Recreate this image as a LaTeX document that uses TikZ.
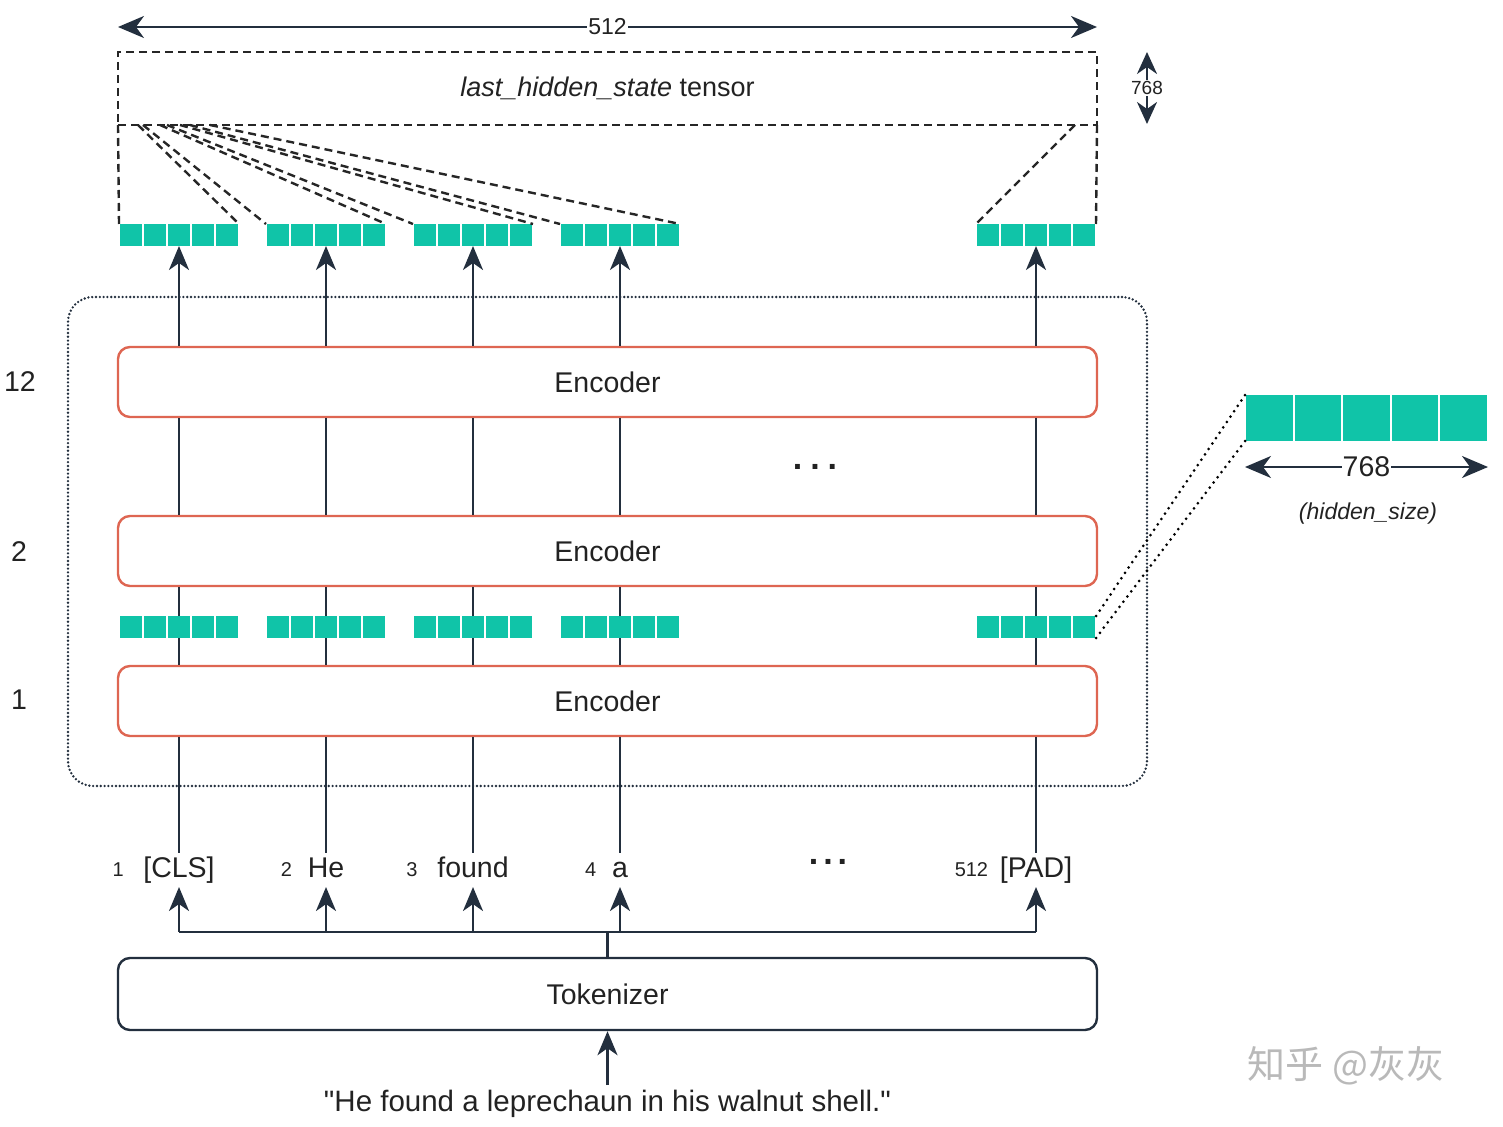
\documentclass[tikz,border=0pt]{standalone}
\usepackage{fontspec}
\setmainfont{Liberation Sans}
\newfontfamily\cjk{Noto Sans CJK SC}
\usepackage{tikz}
\usetikzlibrary{positioning,arrows.meta,calc}

\definecolor{ink}{RGB}{35,47,62}
\definecolor{encred}{RGB}{222,102,82}
\definecolor{cellteal}{RGB}{16,196,168}
\definecolor{txt}{RGB}{34,34,34}

\tikzset{
  lbl/.style={font=\fontsize{28.5}{32}\selectfont, text=txt},
  token/.style={lbl, text height=21pt, text depth=6pt},
  idx/.style={font=\fontsize{20}{24}\selectfont, text=txt, inner sep=2pt},
  encoder/.style={draw=encred, fill=white, line width=2.4pt, rounded corners=12pt, minimum width=979pt, minimum height=70pt, lbl},
  tokbox/.style={draw=ink, line width=2.4pt, rounded corners=12pt, minimum width=979pt, minimum height=72pt, lbl},
  vecbox/.style={inner sep=0pt, outer sep=0pt},
  link/.style={draw=ink, line width=2.4pt},
  arr/.style={link, -{Stealth[length=24pt,width=20pt,inset=7pt]}},
  dimarrow/.style={link, {Stealth[length=26pt,width=22pt,inset=8pt]}-{Stealth[length=26pt,width=22pt,inset=8pt]}},
  fan/.style={draw=black!85, line width=2.4pt, dash pattern=on 8pt off 5pt},
  zoomline/.style={draw=black, line width=3pt, line cap=round, dash pattern=on 0pt off 6.5pt},
  dotsym/.style={font=\fontsize{34}{34}\selectfont\bfseries, text=txt},
}

% row of five hidden-state cells: name, x, y, pitch, height
\newcommand{\vecrow}[5]{%
  \node[vecbox, minimum width=5*#4pt, minimum height=#5pt] (#1) at (#2,#3) {};
  \foreach \k in {0,...,4}
    \fill[cellteal] ([xshift=\k*#4pt+1pt]#1.north west) rectangle +(#4-2,#5);
}

\begin{document}
\begin{tikzpicture}[x=1pt,y=-1pt]
\useasboundingbox (0,0) rectangle (1503,1126);

% output tensor
\node[lbl, font=\fontsize{27}{30}\selectfont, draw=black!85, line width=2.4pt, dash pattern=on 8pt off 5pt,
      outer sep=0pt, minimum width=979pt, minimum height=73pt] (tensor) at (607.5,88.5)
      {\textit{last\_hidden\_state} tensor};
\coordinate (wl) at (118,27);
\coordinate (wr) at (1097,27);
\draw[dimarrow] (wl) -- node[fill=white, inner sep=1pt, font=\fontsize{23}{26}\selectfont, text=txt]{512} (wr);
\coordinate (hu) at (1147,52);
\coordinate (hd) at (1147,124);
\draw[link, {Stealth[length=22pt,width=20pt,inset=7pt]}-{Stealth[length=22pt,width=20pt,inset=7pt]}] (hu) -- node[fill=white, inner sep=1pt, font=\fontsize{19}{22}\selectfont, text=txt]{768} (hd);

% hidden states, top row and after layer 1
\foreach \i/\x in {1/179, 2/326, 3/473, 4/620, 5/1036}{
  \vecrow{h\i}{\x}{235}{24}{22}
  \vecrow{m\i}{\x}{627}{24}{22}
}

% tensor fan-out
\draw[fan] (tensor.south west) -- (h1.north west);
\draw[fan] (tensor.south east) -- (h5.north east);
\foreach \dx/\tgt in {20/h1.north east, 25/h2.north west, 42/h2.north east, 49/h3.north west,
                      62/h3.north east, 72/h4.north west, 92/h4.north east}
  \draw[fan] ($(tensor.south west)+(\dx,0)$) -- (\tgt);
\draw[fan] ($(tensor.south east)+(-22,0)$) -- (h5.north west);

% encoder stack
\node[draw=ink, line width=2.6pt, line cap=round, dash pattern=on 0pt off 3.8pt, rounded corners=25pt,
      minimum width=1079pt, minimum height=489pt] (stack) at (607.5,541.5) {};
\node[encoder] (enc12) at (607.5,382) {Encoder};
\node[encoder] (enc2) at (607.5,551) {Encoder};
\node[encoder] (enc1) at (607.5,701) {Encoder};
\node[lbl] (n12) at (20,382) {12};
\node[lbl] (n2) at (19,552) {2};
\node[lbl] (n1) at (19,700) {1};
\node[dotsym] (gap) at (815,467) {.\hspace{8pt}.\hspace{8pt}.};

% tokens
\node[token] (tok1) at (179,870) {[CLS]};
\node[token] (tok2) at (326,870) {He};
\node[token] (tok3) at (473,870) {found};
\node[token] (tok4) at (620,870) {a};
\node[token] (tok5) at (1036,870) {[PAD]};
\node[idx, left=14pt of tok1] (i1) {1};
\node[idx, left=10pt of tok2] (i2) {2};
\node[idx, left=14pt of tok3] (i3) {3};
\node[idx, left=10pt of tok4] (i4) {4};
\node[idx, left=6pt of tok5] (i5) {512};
\node[dotsym] (tgap) at (828,862) {.\hspace{5pt}.\hspace{5pt}.};

\foreach \i in {1,...,5}{
  \draw[arr] (enc12.north -| h\i) -- (h\i.south);
  \draw[link] (enc2.north -| h\i) -- (enc12.south -| h\i);
  \draw[link] (m\i.north) -- (enc2.south -| m\i);
  \draw[link] (m\i.south) -- (enc1.north -| m\i);
  \draw[link] (enc1.south -| m\i) -- (tok\i.north);
}

% tokenizer
\node[tokbox] (tokenizer) at (607.5,994) {Tokenizer};
\coordinate (bus) at ($(tokenizer.north)+(0,-25)$);
\draw[link] (tokenizer.north) -- (bus);
\draw[link] (bus -| tok1) -- (bus -| tok5);
\foreach \i in {1,...,5}
  \draw[arr] (bus -| tok\i) -- (tok\i.south);
\node[lbl, font=\fontsize{29.5}{32}\selectfont, inner sep=2pt] (sentence) at (607.5,1104) {\textquotedbl He found a leprechaun in his walnut shell.\textquotedbl};
\draw[arr] ($(sentence.north)+(0,-3)$) -- (tokenizer.south);

% one hidden state zoomed
\vecrow{big}{1366.5}{418}{48.6}{46}
\draw[zoomline] (m5.north east) -- (big.north west);
\draw[zoomline] (m5.south east) -- (big.south west);
\coordinate (bl) at ($(big.south west)+(0,26)$);
\coordinate (br) at ($(big.south east)+(0,26)$);
\draw[dimarrow] (bl) -- node[fill=white, inner sep=1pt, lbl]{768} (br);
\node[font=\fontsize{23}{26}\selectfont\itshape, text=txt] (hsize) at (1368,514) {(hidden\_size)};

% watermark
\node[text=gray!55, font=\cjk\fontsize{38}{40}\selectfont] (mark) at (1346,1066) {知乎 @灰灰};
\end{tikzpicture}
\end{document}
